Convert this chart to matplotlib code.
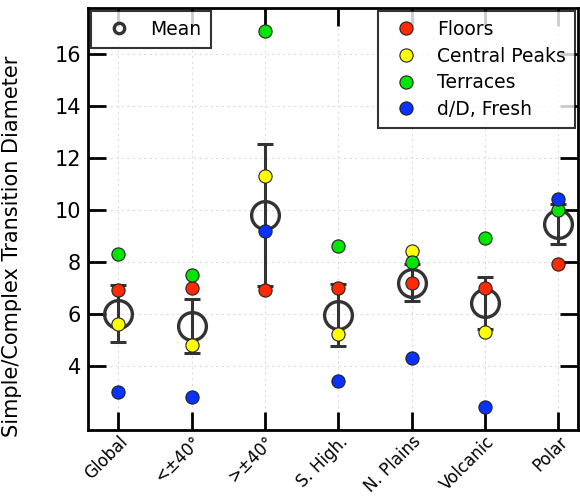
import matplotlib
matplotlib.use('Agg')
import matplotlib.pyplot as plt
import numpy as np

# region categories and values
regions = ['Global', '<±40°', '>±40°', 'S. High.', 'N. Plains', 'Volcanic', 'Polar']
floors = [6.9, 7.0, 6.9, 7.0, 7.2, 7.0, 7.9]
central_peaks = [5.6, 4.8, 11.3, 5.2, 8.4, 5.3, None]
terraces = [8.3, 7.5, 16.9, 8.6, 8.0, 8.9, 10.0]
dd_fresh = [3.0, 2.8, 9.2, 3.4, 4.3, 2.4, 10.4]
mean_val = [6.0, 5.53, 9.8, 5.95, 7.2, 6.4, 9.45]
mean_err = [1.1, 1.05, 2.73, 1.2, 0.7, 1.0, 0.78]

plt.rcParams['font.family'] = ['DejaVu Sans']

fig = plt.figure(figsize=(5.8, 4.98), dpi=100)
ax = fig.add_axes([0.152, 0.1365, 0.845, 0.848])

x = np.arange(len(regions))
dark = '#333333'

# mean with error bars
ax.errorbar(x, mean_val, yerr=mean_err, fmt='none', ecolor=dark,
            elinewidth=2.2, capsize=6, capthick=2.2, zorder=3)
ax.plot(x, mean_val, 'o', ms=20, mfc='none', mec=dark, mew=2.4, zorder=3)
h_mean, = ax.plot([], [], 'o', ms=7.5, mfc='none', mec=dark, mew=2.4, label='Mean')

def pts(vals):
    xs = [xi for xi, v in zip(x, vals) if v is not None]
    ys = [v for v in vals if v is not None]
    return xs, ys

series = [(floors, '#ff2a00', 'Floors'),
          (central_peaks, '#ffff00', 'Central Peaks'),
          (terraces, '#00e600', 'Terraces'),
          (dd_fresh, '#0a32ff', 'd/D, Fresh')]
handles = []
for vals, col, lab in series:
    xs, ys = pts(vals)
    h, = ax.plot(xs, ys, 'o', ms=9.5, mfc=col, mec='#222222', mew=0.8,
                 label=lab, zorder=4)
    handles.append(h)

ax.set_xlim(-0.41, 6.27)
ax.set_ylim(1.52, 17.78)
ax.set_yticks([4, 6, 8, 10, 12, 14, 16])
ax.set_xticks(x)
ax.set_xticklabels(regions, rotation=45, ha='right', rotation_mode='anchor')

ax.tick_params(axis='both', which='major', direction='in', length=13, width=2,
               labelsize=15, top=True, right=True, color='black', pad=5)
ax.tick_params(axis='x', labelsize=12, pad=2)
for s in ax.spines.values():
    s.set_linewidth(2)

ax.grid(True, color='#dddddd', linestyle=(0, (2, 3)), linewidth=0.8)
ax.set_axisbelow(True)

ax.set_ylabel('Simple/Complex Transition Diameter', fontsize=15)
ax.yaxis.set_label_coords(-0.135, 0.434)

leg1 = ax.legend(handles=[h_mean], loc='upper left', fontsize=13.5,
                 frameon=True, fancybox=False, borderaxespad=0.15,
                 handletextpad=0.65, borderpad=0.5)
leg1.get_frame().set_edgecolor('black')
leg1.get_frame().set_linewidth(1.5)
ax.add_artist(leg1)

leg2 = ax.legend(handles=handles, loc='upper right', fontsize=13.5,
                 frameon=True, fancybox=False, borderaxespad=0.15,
                 handletextpad=0.65, labelspacing=0.41, borderpad=0.5)
leg2.get_frame().set_edgecolor('black')
leg2.get_frame().set_linewidth(1.5)

fig.savefig('out.png', dpi=100)
